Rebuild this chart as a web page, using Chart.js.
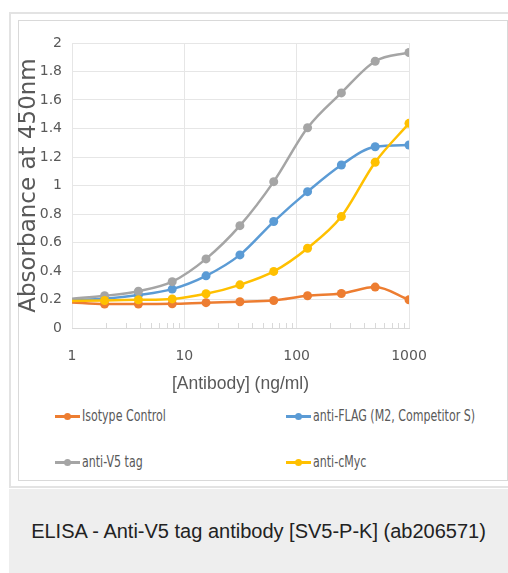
<!DOCTYPE html>
<html>
<head>
<meta charset="utf-8">
<script src="https://cdn.jsdelivr.net/npm/chart.js@4"></script>
<style>
  html, body { margin:0; padding:0; background:#fff; }
  body { width:508px; height:573px; position:relative; overflow:hidden; }
  #outer { position:absolute; left:9px; top:12px; width:520px; height:476px; border:2px solid #e3e3e3; box-sizing:border-box; }
  #inner { position:absolute; left:18px; top:20px; width:490px; height:461px; border:1px solid #d9d9d9; box-sizing:border-box; }
  #cv { position:absolute; left:0; top:0; }
  .leg { position:absolute; font-family:"DejaVu Sans",sans-serif; font-size:16px; color:#595959; line-height:18px; white-space:nowrap; }
  .leg .ln { display:inline-block; position:relative; width:25px; height:18px; vertical-align:top; margin-right:2px; }
  .leg .ln:before { content:""; position:absolute; left:0; right:0; top:8px; height:2.5px; background:var(--c); }
  .leg .ln:after { content:""; position:absolute; left:9px; top:5.5px; width:7px; height:7px; border-radius:50%; background:var(--c); }
  .leg .tx { display:inline-block; transform:scaleX(0.69); transform-origin:0 50%; }
  #cap { position:absolute; left:9px; top:489px; width:499px; height:84px; background:#eeeeee; font-family:"Liberation Sans",Arial,sans-serif; font-size:20px; color:#222; text-align:center; line-height:84px; }
</style>
</head>
<body>
<div id="outer"></div>
<div id="inner"></div>
<canvas id="cv" width="508" height="400"></canvas>
<div class="leg" style="left:55px; top:407px;"><span class="ln" style="--c:#ED7D31"></span><span class="tx" id="l0"></span></div>
<div class="leg" style="left:286px; top:407px;"><span class="ln" style="--c:#5B9BD5"></span><span class="tx" id="l1"></span></div>
<div class="leg" style="left:55px; top:453px;"><span class="ln" style="--c:#A5A5A5"></span><span class="tx" id="l2"></span></div>
<div class="leg" style="left:286px; top:453px;"><span class="ln" style="--c:#FFC000"></span><span class="tx" id="l3"></span></div>
<div id="cap">ELISA - Anti-V5 tag antibody [SV5-P-K] (ab206571)</div>
<script>
// ---- data ----
const concentrations = [0.977, 1.95, 3.9, 7.8, 15.6, 31.25, 62.5, 125, 250, 500, 1000];
const isotypeControl = [0.18, 0.168, 0.168, 0.170, 0.178, 0.184, 0.193, 0.226, 0.242, 0.287, 0.198];
const antiFlag       = [0.197, 0.205, 0.231, 0.273, 0.366, 0.513, 0.747, 0.957, 1.144, 1.272, 1.284];
const antiV5         = [0.205, 0.226, 0.258, 0.325, 0.485, 0.718, 1.027, 1.405, 1.65, 1.872, 1.933];
const antiCMyc       = [0.19, 0.193, 0.198, 0.204, 0.24, 0.303, 0.397, 0.56, 0.782, 1.163, 1.436];
const seriesNames = ["Isotype Control", "anti-FLAG (M2, Competitor S)", "anti-V5 tag", "anti-cMyc"];
const seriesColors = ["#ED7D31", "#5B9BD5", "#A5A5A5", "#FFC000"];
const xTickValues = [1, 10, 100, 1000];
const xTitle = "[Antibody] (ng/ml)";
const yTitle = "Absorbance at 450nm";

seriesNames.forEach((n, i) => document.getElementById('l' + i).textContent = n);

const tickFont = { family: '"DejaVu Sans",sans-serif', size: 14 };
const mk = (vals, i) => ({
  label: seriesNames[i],
  data: concentrations.map((c, k) => ({ x: c, y: vals[k] })),
  borderColor: seriesColors[i],
  backgroundColor: seriesColors[i],
  borderWidth: 2.5,
  pointRadius: concentrations.map((c, k) => k === 0 ? 0 : 4.5),
  pointHoverRadius: 4.5,
  pointBorderWidth: 0,
  cubicInterpolationMode: 'monotone',
  order: 4 - i
});

const minorTicks = {
  id: 'minorTicks',
  beforeDatasetsDraw(chart) {
    const xs = chart.scales.x, a = chart.chartArea, ctx = chart.ctx;
    ctx.save();
    ctx.strokeStyle = '#d9d9d9';
    ctx.lineWidth = 1;
    for (let d = 1; d < 1000; d *= 10) {
      for (let m = 2; m <= 9; m++) {
        const px = Math.round(xs.getPixelForValue(d * m)) + 0.5;
        ctx.beginPath(); ctx.moveTo(px, a.bottom); ctx.lineTo(px, a.bottom - 5); ctx.stroke();
      }
    }
    ctx.restore();
  }
};

new Chart(document.getElementById('cv'), {
  type: 'line',
  data: { datasets: [mk(isotypeControl, 0), mk(antiFlag, 1), mk(antiV5, 2), mk(antiCMyc, 3)] },
  options: {
    responsive: false,
    animation: false,
    events: [],
    layout: { padding: { left: 18, top: 43, right: 99, bottom: 0 } },
    plugins: { legend: { display: false }, tooltip: { enabled: false } },
    scales: {
      x: {
        type: 'logarithmic',
        min: 1, max: 1000,
        afterFit: s => { s.height = 72; },
        afterBuildTicks: s => { s.ticks = xTickValues.map(v => ({ value: v })); },
        ticks: { font: tickFont, color: '#595959', padding: 20, maxRotation: 0, callback: v => String(v) },
        grid: { color: '#e6e6e6', drawTicks: false },
        border: { color: '#d9d9d9' },
        title: { display: true, text: xTitle, color: '#595959', font: { family: '"Liberation Sans",sans-serif', size: 17.5, lineHeight: 1.2 }, padding: { top: 0, bottom: 5 } }
      },
      y: {
        min: 0, max: 2,
        afterFit: s => { s.width = 54; },
        ticks: { stepSize: 0.2, font: tickFont, color: '#595959', padding: 10, callback: v => String(Math.round(v * 10) / 10) },
        grid: { color: '#e6e6e6', drawTicks: false },
        border: { display: false },
        title: { display: true, text: yTitle, color: '#595959', font: { family: '"DejaVu Sans",sans-serif', size: 23, lineHeight: 1 }, padding: { top: 0, bottom: 0 } }
      }
    }
  },
  plugins: [minorTicks]
});
</script>
</body>
</html>
